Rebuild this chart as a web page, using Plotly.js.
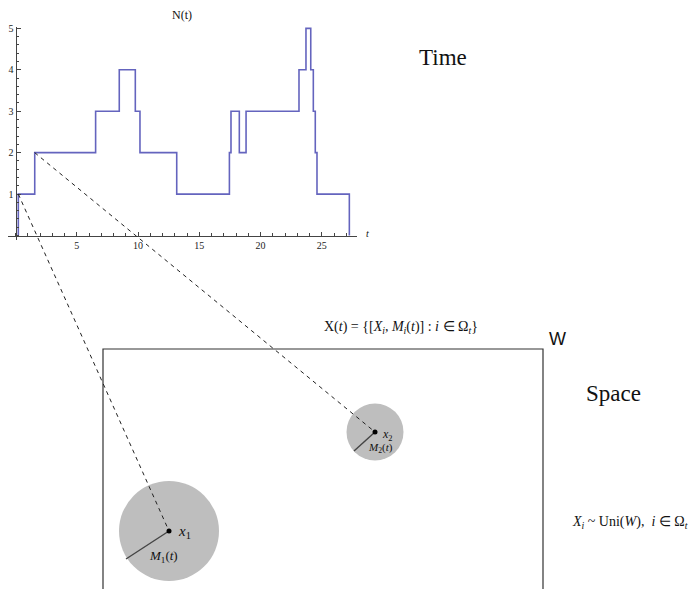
<!DOCTYPE html>
<html>
<head>
<meta charset="utf-8">
<script src="https://cdn.plot.ly/plotly-3.0.1.min.js"></script>
<style>html,body{margin:0;padding:0;background:#fff;}#plot{width:696px;height:589px;}</style>
</head>
<body>
<div id="plot"></div>
<script>
// ---- data ----
const jumpTimes = [0.23, 1.57, 6.54, 8.47, 9.78, 10.16, 13.16, 17.46, 17.59, 18.27, 18.82, 23.14, 23.71, 24.10, 24.31, 24.47, 24.61, 27.25];
const countAfter = [1, 2, 3, 4, 3, 2, 1, 2, 3, 2, 3, 4, 5, 4, 3, 2, 1, 0];
const xTickVals = [5, 10, 15, 20, 25];
const yTickVals = [1, 2, 3, 4, 5];
const linkedJumps = [0, 1]; // births of point 1 and point 2

// ---- layout geometry ----
const W = 696, H = 589;
const xRange = [-0.6, 27.9], yRange = [-0.1, 5.03];
const xPx = [8.15, 357.3];        // pixel span of x range
const yPx = [239.7, 27.1];        // pixel span of y range (bottom, top)
const xDomain = [xPx[0] / W, xPx[1] / W];
const yDomain = [(H - yPx[0]) / H, (H - yPx[1]) / H];

function toPx(t, n) {
  const px = xPx[0] + (t - xRange[0]) / (xRange[1] - xRange[0]) * (xPx[1] - xPx[0]);
  const py = yPx[0] + (n - yRange[0]) / (yRange[1] - yRange[0]) * (yPx[1] - yPx[0]);
  return [px, py];
}
const t0px = toPx(0, 0);

const stepX = [jumpTimes[0]].concat(jumpTimes);
const stepY = [0].concat(countAfter);

const traces = [{
  x: stepX, y: stepY, type: 'scatter', mode: 'lines',
  line: {shape: 'hv', color: '#6464be', width: 1.6},
  xaxis: 'x', yaxis: 'y', hoverinfo: 'skip', showlegend: false
}, {
  x: [0], y: [0], xaxis: 'x2', yaxis: 'y2', mode: 'markers',
  marker: {opacity: 0}, hoverinfo: 'skip', showlegend: false
}];

// space-diagram elements (pixel positions on overlay axis)
const pts = [
  {cx: 169, cy: 531, r: 50, rx: 126, ry: 559},
  {cx: 375, cy: 432, r: 28.5, rx: 354, ry: 451}
];

const shapes = [];
shapes.push({type: 'rect', xref: 'x2', yref: 'y2', x0: 103, x1: 543, y0: 349, y1: 620,
  line: {color: '#333', width: 1.2}, fillcolor: 'rgba(0,0,0,0)'});
pts.forEach(p => {
  shapes.push({type: 'circle', xref: 'x2', yref: 'y2', x0: p.cx - p.r, x1: p.cx + p.r,
    y0: p.cy - p.r, y1: p.cy + p.r, line: {width: 0}, fillcolor: '#bebebe'});
});
pts.forEach(p => {
  shapes.push({type: 'line', xref: 'x2', yref: 'y2', x0: p.cx, y0: p.cy, x1: p.rx, y1: p.ry,
    line: {color: '#444', width: 1.4}});
});
linkedJumps.forEach((j, k) => {
  const s = toPx(jumpTimes[j], countAfter[j]);
  shapes.push({type: 'line', xref: 'x2', yref: 'y2', x0: s[0], y0: s[1], x1: pts[k].cx, y1: pts[k].cy,
    line: {color: '#222', width: 1, dash: '4px,4px'}});
});
pts.forEach(p => {
  shapes.push({type: 'circle', xref: 'x2', yref: 'y2', x0: p.cx - 2.5, x1: p.cx + 2.5,
    y0: p.cy - 2.5, y1: p.cy + 2.5, line: {width: 0}, fillcolor: '#000'});
});

const serif = 'Liberation Serif, Times New Roman, serif';
function ann(x, y, text, size, family, xanchor) {
  return {xref: 'x2', yref: 'y2', x: x, y: y, text: text, showarrow: false,
    xanchor: xanchor || 'center', yanchor: 'middle',
    font: {family: family || serif, size: size, color: '#111'}};
}
const annotations = [
  ann(182, 15, 'N(t)', 12),
  ann(367, 233, '<i>t</i>', 10),
  ann(443, 57, 'Time', 23),
  ann(613, 393, 'Space', 23),
  ann(557, 339, 'W', 18, 'Liberation Sans, Arial, sans-serif'),
  ann(401, 327, 'X(<i>t</i>) = {[<i>X</i><sub><i>i</i></sub>, <i>M</i><sub><i>i</i></sub>(<i>t</i>)] : <i>i</i> ∈ Ω<sub><i>t</i></sub>}', 14),
  ann(630, 522, '<i>X</i><sub><i>i</i></sub> ~ Uni(<i>W</i>),  <i>i</i> ∈ Ω<sub><i>t</i></sub>', 14),
  ann(176, 532, '<i>x</i><sub>1</sub>', 15, serif, 'left'),
  ann(147, 556, '<i>M</i><sub>1</sub>(<i>t</i>)', 13, serif, 'left'),
  ann(380, 435, '<i>x</i><sub>2</sub>', 12, serif, 'left'),
  ann(366, 448, '<i>M</i><sub>2</sub>(<i>t</i>)', 11, serif, 'left')
];

const layout = {
  width: W, height: H, margin: {l: 0, r: 0, t: 0, b: 0, pad: 0},
  paper_bgcolor: '#fff', plot_bgcolor: 'rgba(0,0,0,0)', showlegend: false,
  xaxis: {domain: xDomain, range: xRange, anchor: 'free', position: (H - t0px[1]) / H,
    showgrid: false, zeroline: false, showline: true, linecolor: '#444', linewidth: 1,
    ticks: 'inside', ticklen: 4, tickcolor: '#444', tickmode: 'array', tickvals: xTickVals,
    minor: {dtick: 1, tick0: 0, ticks: 'inside', ticklen: 2.5, tickcolor: '#444', showgrid: false},
    tickfont: {family: serif, size: 10, color: '#222'}, fixedrange: true},
  yaxis: {domain: yDomain, range: yRange, anchor: 'free', position: t0px[0] / W,
    showgrid: false, zeroline: false, showline: true, linecolor: '#444', linewidth: 1,
    ticks: 'inside', ticklen: 4, tickcolor: '#444', tickmode: 'array', tickvals: yTickVals,
    minor: {dtick: 0.2, tick0: 0, ticks: 'inside', ticklen: 2.5, tickcolor: '#444', showgrid: false},
    tickfont: {family: serif, size: 10, color: '#222'}, fixedrange: true},
  xaxis2: {domain: [0, 1], range: [0, W], anchor: 'y2', visible: false, fixedrange: true},
  yaxis2: {domain: [0, 1], range: [H, 0], anchor: 'x2', visible: false, fixedrange: true},
  shapes: shapes, annotations: annotations
};

Plotly.newPlot('plot', traces, layout, {displayModeBar: false, staticPlot: true});
</script>
</body>
</html>
